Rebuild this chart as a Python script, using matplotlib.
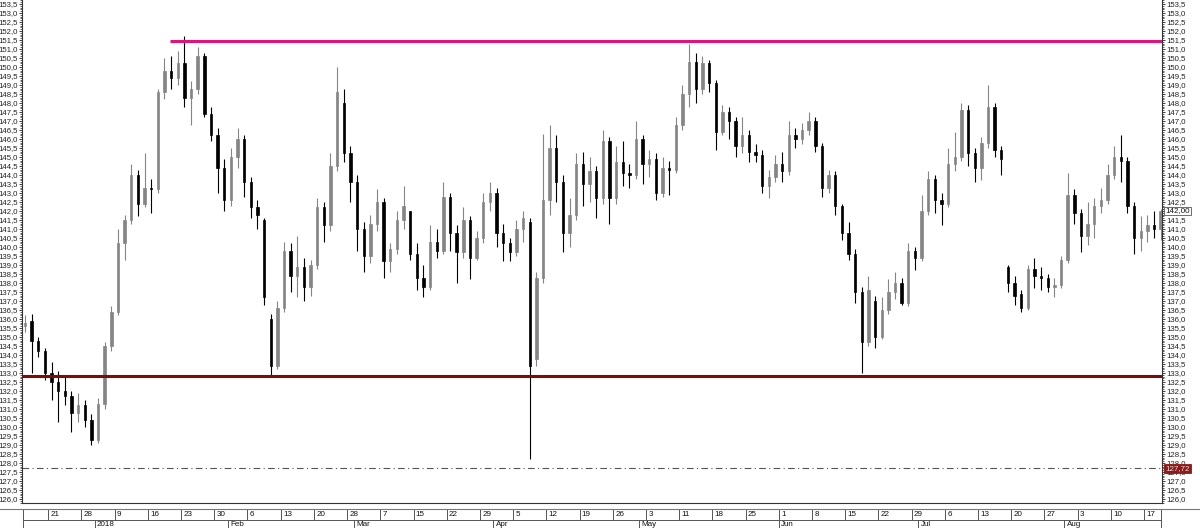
import matplotlib.pyplot as plt
from matplotlib.ticker import MultipleLocator, FuncFormatter
from matplotlib.transforms import blended_transform_factory

# daily candles, one entry per trading day (Dec 2017 - Aug 2018)
opens = [135.6, 135.9, 134.8, 134.2, 133.0, 132.5, 132.0, 131.7, 130.8, 131.2,
         130.4, 129.3, 131.3, 134.5, 136.4, 140.2, 141.5, 144.0, 142.4, 143.3,
         143.2, 148.6, 149.8, 149.4, 150.2, 148.3, 148.8, 150.6, 147.4, 146.2,
         144.4, 142.6, 145.0, 146.0, 143.6, 142.2, 141.5, 136.0, 133.4, 136.6,
         139.8, 138.4, 138.9, 137.8, 139.0, 142.2, 141.2, 144.5, 148.0, 145.2,
         143.6, 141.0, 139.5, 141.3, 142.5, 139.2, 139.9, 141.5, 142.0, 139.6,
         138.3, 137.8, 140.3, 139.8, 142.8, 140.8, 139.7, 141.5, 139.4, 140.5,
         142.5, 143.0, 140.8, 140.2, 139.7, 141.0, 141.4, 133.8, 138.3, 142.6,
         145.5, 143.6, 140.8, 141.8, 144.6, 143.5, 144.2, 142.7, 145.9, 142.7,
         144.7, 144.1, 144.0, 146.0, 144.6, 144.9, 143.0, 144.4, 144.3, 146.8,
         148.5, 150.3, 148.8, 150.2, 149.1, 146.4, 147.5, 147.0, 145.6, 146.2,
         145.3, 145.1, 143.4, 143.9, 144.6, 144.2, 146.2, 146.0, 146.5, 147.0,
         145.6, 143.3, 144.0, 142.3, 140.8, 139.6, 137.5, 134.7, 137.0, 135.0,
         136.5, 137.5, 138.0, 136.9, 139.8, 139.4, 142.0, 143.8, 142.6, 142.4,
         144.6, 145.0, 147.6, 145.2, 144.4, 145.8, 147.8, 145.4, 138.9, 138.0,
         137.4, 136.6, 138.8, 138.4, 138.3, 137.8, 137.9, 139.3, 142.9, 141.9,
         140.6, 141.3, 142.3, 142.6, 144.0, 145.0, 144.8, 142.3, 140.5, 140.9,
         141.2, 141.0]
highs = [136.2, 136.3, 135.0, 134.4, 133.6, 133.1, 132.9, 132.0, 131.9, 131.5,
         130.7, 131.6, 134.7, 136.7, 141.0, 141.8, 144.6, 144.3, 145.2, 143.8,
         148.8, 150.5, 150.6, 150.9, 151.7, 149.2, 151.1, 150.8, 147.8, 146.6,
         144.9, 145.5, 146.6, 146.2, 143.9, 142.6, 141.6, 136.3, 137.0, 140.3,
         140.2, 140.6, 139.4, 139.3, 142.7, 142.5, 145.2, 150.0, 148.8, 145.6,
         144.0, 141.4, 141.8, 143.2, 142.7, 140.2, 142.0, 143.4, 142.0, 140.2,
         139.0, 141.2, 141.0, 143.6, 143.0, 141.2, 142.2, 141.7, 140.9, 143.0,
         143.6, 143.3, 141.3, 140.5, 141.5, 142.0, 141.6, 138.6, 146.3, 146.8,
         146.2, 144.0, 142.7, 145.2, 145.3, 145.0, 144.5, 146.5, 146.1, 145.6,
         145.9, 144.6, 147.0, 146.2, 145.4, 145.2, 145.0, 144.8, 147.2, 149.0,
         151.3, 150.8, 150.6, 150.4, 149.3, 147.9, 147.8, 147.2, 147.2, 146.5,
         145.7, 145.4, 144.3, 145.1, 145.3, 147.0, 146.6, 146.9, 147.5, 147.2,
         145.8, 144.3, 144.2, 142.4, 141.4, 139.9, 137.8, 138.4, 137.3, 137.2,
         138.2, 138.6, 138.3, 140.2, 140.0, 142.9, 144.2, 144.0, 143.0, 145.5,
         146.4, 148.0, 147.9, 145.5, 146.1, 149.0, 148.0, 145.6, 139.0, 138.4,
         137.6, 139.0, 139.4, 138.9, 138.5, 138.3, 139.5, 144.1, 143.2, 142.1,
         142.5, 142.7, 143.3, 144.6, 145.6, 146.2, 145.0, 142.5, 141.7, 141.8,
         142.0, 142.1]
lows = [135.3, 133.0, 133.9, 132.6, 131.5, 130.3, 131.2, 129.7, 130.3, 130.0,
        129.0, 129.1, 131.0, 134.2, 136.2, 139.3, 141.3, 141.7, 142.2, 141.9,
        143.0, 148.2, 148.8, 149.0, 147.8, 146.8, 148.5, 147.2, 145.9, 143.0,
        142.0, 142.3, 144.4, 142.8, 141.6, 141.0, 136.8, 132.9, 133.2, 136.4,
        137.5, 137.2, 137.0, 137.3, 138.8, 140.3, 140.9, 144.2, 144.7, 142.5,
        139.8, 138.6, 139.1, 140.9, 138.3, 138.6, 139.6, 141.0, 139.3, 137.6,
        137.2, 137.6, 139.4, 139.6, 139.8, 138.0, 139.4, 138.2, 139.3, 140.2,
        142.0, 140.0, 139.2, 139.2, 139.5, 140.3, 128.2, 133.4, 138.0, 141.8,
        142.5, 139.7, 140.0, 141.5, 142.3, 142.5, 141.6, 142.4, 141.3, 142.4,
        143.4, 143.3, 143.8, 143.5, 143.9, 142.6, 142.8, 142.9, 144.1, 146.5,
        147.8, 148.0, 148.5, 148.6, 145.4, 146.2, 146.0, 145.0, 145.2, 144.7,
        144.7, 143.0, 142.7, 143.6, 143.6, 144.0, 145.5, 145.7, 146.2, 145.3,
        142.8, 143.0, 141.8, 140.4, 139.3, 136.9, 133.0, 134.5, 134.4, 134.9,
        136.3, 137.1, 136.8, 136.7, 138.7, 139.2, 141.8, 141.9, 141.2, 142.2,
        144.2, 144.8, 144.5, 143.6, 143.7, 145.5, 145.0, 144.0, 137.5, 136.8,
        136.4, 136.5, 137.7, 137.6, 137.5, 137.2, 137.7, 139.1, 141.3, 139.7,
        140.1, 140.5, 141.9, 142.4, 143.8, 143.6, 141.9, 139.6, 139.8, 140.3,
        140.5, 140.4]
closes = [135.8, 134.8, 134.2, 133.0, 132.5, 132.0, 131.7, 130.8, 131.2, 130.4,
          129.3, 131.3, 134.5, 136.4, 140.2, 141.5, 144.0, 142.4, 143.3, 143.2,
          148.6, 149.8, 149.4, 150.2, 148.3, 148.8, 150.6, 147.4, 146.2, 144.4,
          142.6, 145.0, 146.0, 143.6, 142.2, 141.8, 137.2, 133.4, 136.6, 139.8,
          138.4, 138.9, 137.8, 139.0, 142.2, 141.2, 144.5, 148.6, 145.2, 143.6,
          141.0, 139.5, 141.3, 142.5, 139.2, 139.9, 141.5, 142.3, 139.6, 138.3,
          137.8, 140.3, 139.8, 142.8, 140.8, 139.7, 141.5, 139.4, 140.5, 142.5,
          143.0, 140.8, 140.2, 139.7, 141.0, 141.6, 133.4, 138.3, 142.6, 145.5,
          143.6, 140.8, 141.8, 144.6, 143.5, 144.2, 142.7, 145.9, 142.7, 144.7,
          144.1, 144.0, 146.0, 144.6, 144.9, 143.0, 144.4, 144.3, 146.8, 148.5,
          150.3, 148.8, 150.2, 149.1, 146.4, 147.5, 147.0, 145.6, 146.2, 145.3,
          145.1, 143.4, 143.9, 144.6, 144.2, 146.2, 146.0, 146.5, 147.0, 145.6,
          143.3, 144.0, 142.3, 140.8, 139.6, 137.5, 134.7, 137.6, 135.0, 136.5,
          137.5, 138.0, 136.9, 139.8, 139.4, 142.0, 143.8, 142.6, 142.4, 144.6,
          145.0, 147.6, 145.2, 144.4, 145.8, 147.8, 145.4, 144.9, 138.0, 137.3,
          136.6, 138.8, 138.4, 138.3, 137.8, 137.9, 139.3, 142.9, 141.9, 140.6,
          141.3, 142.3, 142.6, 144.0, 145.0, 144.8, 142.3, 140.5, 140.9, 141.2,
          141.0, 142.0]

week_labels = ["21", "28", "9", "16", "23", "30", "6", "13", "20", "28", "7",
               "15", "22", "29", "5", "12", "19", "26", "3", "11", "18", "25",
               "1", "8", "15", "22", "29", "6", "13", "20", "27", "3", "10", "17"]
month_labels = ["2018", "Feb", "Mar", "Apr", "May", "Jun", "Jul", "Aug"]
month_start = [11, 31, 50, 71, 93, 114, 135, 157]

resistance = 151.45
support = 132.85
ref_level = 127.72
ref_label = "127,72"
last_label = "142,00"

W, H = 1200, 529
fig = plt.figure(figsize=(W / 100, H / 100), dpi=100)
ax = fig.add_axes([22 / W, 1 - 503 / H, 1140 / W, 503 / H])

days = list(range(len(closes)))
up_col, dn_col = "#858585", "#000000"
cols = [up_col if c >= o else dn_col for o, c in zip(opens, closes)]
bodies = [c - o for o, c in zip(opens, closes)]

ax.vlines(days, lows, highs, colors=cols, linewidth=0.8, zorder=2)
ax.bar(days, bodies, bottom=opens, width=0.36, color=cols, edgecolor=cols,
       linewidth=0.5, zorder=3)

# horizontal levels
ax.axhline(support, color="#7a0c0c", linewidth=2.2, zorder=4)
ax.hlines(resistance, 21.8, 172, color="#e0157a", linewidth=2.2, zorder=4)
ax.axhline(ref_level, color="#555555", linewidth=0.8, linestyle=(0, (6, 3, 1, 3)),
           zorder=1)

ax.set_xlim(-0.45, 171.2)
ax.set_ylim(125.78, 153.72)

fmt = FuncFormatter(lambda v, p: f"{v:.1f}".replace(".", ","))
ax.yaxis.set_major_locator(MultipleLocator(0.5))
ax.yaxis.set_minor_locator(MultipleLocator(0.1))
ax.yaxis.set_major_formatter(fmt)
ax.tick_params(axis="y", which="both", left=True, right=True, labelleft=True,
               labelright=True, direction="out", colors="#222222",
               labelsize=5.6, pad=0.5)
ax.tick_params(axis="y", which="major", length=2.5, width=0.6)
ax.tick_params(axis="y", which="minor", length=1.3, width=0.5)
for lab in ax.get_yticklabels():
    lab.set_fontfamily("Liberation Sans")
ax.set_xticks([])
ax.spines["top"].set_visible(False)
for s in ("left", "right", "bottom"):
    ax.spines[s].set_color("#333333")
    ax.spines[s].set_linewidth(0.8)

# value boxes on the right scale
tr = blended_transform_factory(ax.transAxes, ax.transData)
ax.text(1.003, closes[-1], last_label, transform=tr, ha="left", va="center",
        fontsize=5.8, family="Liberation Sans", color="#111111", zorder=6,
        bbox=dict(boxstyle="square,pad=0.12", fc="white", ec="#555555", lw=0.6))
ax.text(1.003, ref_level, ref_label, transform=tr, ha="left", va="center",
        fontsize=5.8, family="Liberation Sans", color="#f2d6d6", zorder=6,
        bbox=dict(boxstyle="square,pad=0.12", fc="#8b1a1a", ec="#8b1a1a", lw=0.6))

# date scale
fig.add_artist(plt.Line2D([0, 1], [1 - 509 / H, 1 - 509 / H],
                          color="#777777", linewidth=0.8))
dx = fig.add_axes([22 / W, 1 / H, 1140 / W, 19 / H])
dx.set_xlim(-0.45, 171.2)
dx.set_ylim(0, 19)
dx.axis("off")
line_c = "#555555"
dx.hlines([0, 8, 19], -0.3, 171.2, color=line_c, linewidth=0.7)
dx.vlines([-0.3, 171.1], 0, 19, color=line_c, linewidth=0.7)
for k, lab in enumerate(week_labels):
    xs = 3.5 + 5 * k
    dx.vlines(xs, 8, 19, color=line_c, linewidth=0.7)
    dx.text(xs + 0.35, 13.5, lab, fontsize=5.8, family="Liberation Sans",
            ha="left", va="center", color="#111111")
for start, lab in zip(month_start, month_labels):
    xs = start - 0.5
    dx.vlines(xs, 0, 8, color=line_c, linewidth=0.7)
    dx.text(xs + 0.35, 3.8, lab, fontsize=5.8, family="Liberation Sans",
            ha="left", va="center", color="#111111")

fig.savefig("out.png", dpi=100, facecolor="white")
